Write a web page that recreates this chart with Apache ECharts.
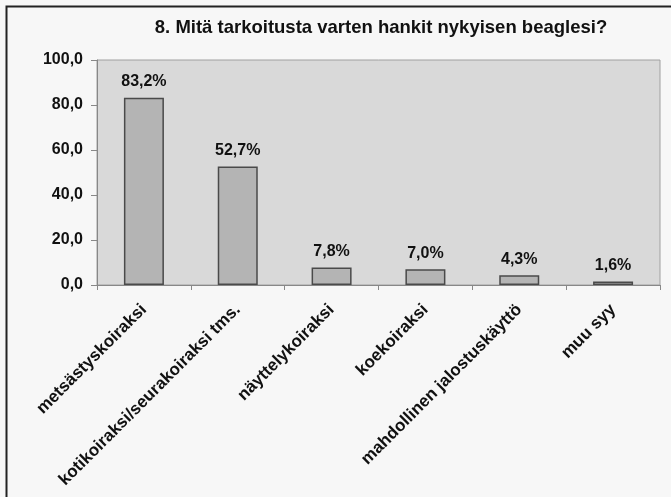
<!DOCTYPE html>
<html>
<head>
<meta charset="utf-8">
<script src="https://cdn.jsdelivr.net/npm/echarts@6/dist/echarts.min.js"></script>
<style>
  html, body { margin: 0; padding: 0; background: #f7f7f7; }
  #chart { width: 671px; height: 497px; }
</style>
</head>
<body>
<div id="chart"></div>
<script>
// Kysymys ja vastausvaihtoehdot
const title = "8. Mitä tarkoitusta varten hankit nykyisen beaglesi?";
const categories = [
    "metsästyskoiraksi",
    "kotikoiraksi/seurakoiraksi tms.",
    "näyttelykoiraksi",
    "koekoiraksi",
    "mahdollinen jalostuskäyttö",
    "muu syy"
];
// Osuudet prosentteina
const values = [83.2, 52.7, 7.8, 7.0, 4.3, 1.6];
const yTicks = [0, 20, 40, 60, 80, 100];

// Suomalainen desimaalipilkku
function fi(v)
{
    return v.toFixed(1).replace(".", ",");
}

const chart = echarts.init(document.getElementById("chart"));

const font = "Arial, 'Liberation Sans', sans-serif";

chart.setOption({
    backgroundColor: "#f7f7f7",
    animation: false,
    title: {
        text: title,
        left: 376,
        top: 13,
        textAlign: "center",
        textStyle: { fontFamily: font, fontSize: 18.5, fontWeight: "bold", color: "#111" }
    },
    // Kehys: vain ylä- ja vasen reuna näkyvät kuvassa
    graphic: [ {
        type: "rect",
        shape: { x: 6.5, y: 6.5, width: 700, height: 520 },
        style: { fill: "none", stroke: "#222", lineWidth: 2 },
        silent: true
    } ],
    grid: {
        left: 97,
        right: 11,
        top: 60,
        bottom: 212,
        show: true,
        backgroundColor: "#d9d9d9",
        borderColor: "#a0a0a0",
        borderWidth: 1
    },
    xAxis: {
        type: "category",
        data: categories,
        axisLine: { lineStyle: { color: "#888", width: 1 } },
        axisTick: { show: true, length: 5, alignWithLabel: false, lineStyle: { color: "#888" } },
        axisLabel: {
            rotate: 45,
            margin: 22,
            interval: 0,
            fontFamily: font,
            fontSize: 17,
            fontWeight: "bold",
            color: "#111"
        }
    },
    yAxis: {
        type: "value",
        min: yTicks[0],
        max: yTicks[yTicks.length - 1],
        interval: 20,
        axisLine: { show: true, lineStyle: { color: "#888" } },
        axisTick: { show: true, length: 6, lineStyle: { color: "#888" } },
        splitLine: { show: false },
        axisLabel: {
            margin: 14,
            fontFamily: font,
            fontSize: 16,
            fontWeight: "bold",
            color: "#111",
            formatter: (v) => fi(v)
        }
    },
    series: [ {
        type: "bar",
        data: values,
        barWidth: 40,
        itemStyle: { color: "#b4b4b4", borderColor: "#4a4a4a", borderWidth: 1.5 },
        label: {
            show: true,
            position: "top",
            distance: 8,
            fontFamily: font,
            fontSize: 16,
            fontWeight: "bold",
            color: "#111",
            formatter: (p) => fi(p.value) + "%"
        }
    } ]
});
</script>
</body>
</html>
